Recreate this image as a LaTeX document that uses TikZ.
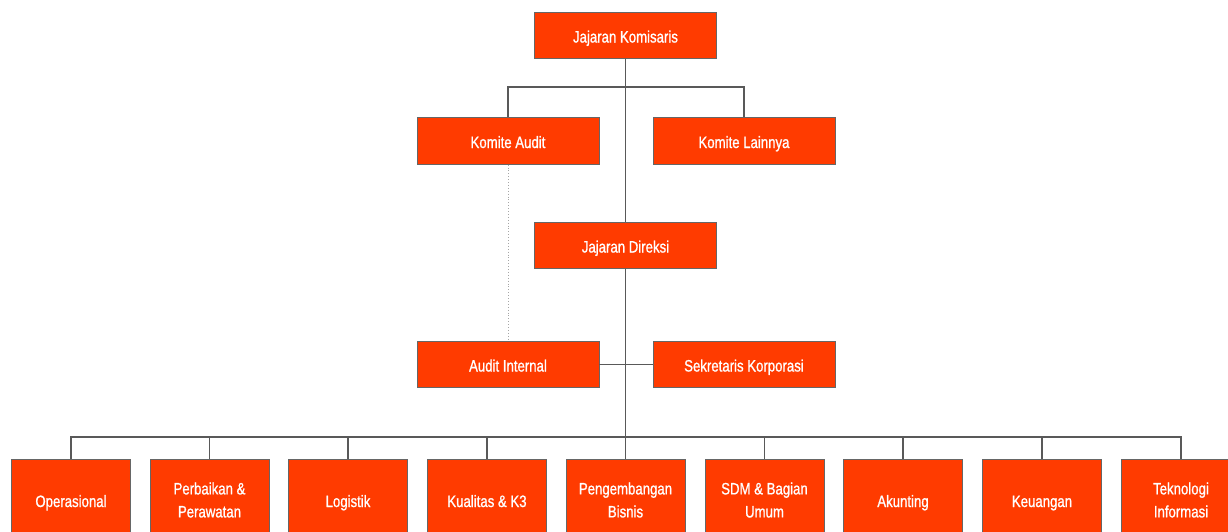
\documentclass[tikz,border=0pt]{standalone}
\usepackage{fontspec}
\setmainfont{Liberation Sans}[FakeStretch=0.8, FakeBold=0.9]
\begin{document}
\begin{tikzpicture}[x=1pt,y=-1pt,
  box/.style={draw=black!60, line width=0.8pt, fill=boxred, text=white,
    minimum width=182pt, minimum height=46.5pt, inner sep=0pt,
    font=\fontsize{16.5}{23}\selectfont, align=center},
  one/.style={text height=14pt, text depth=0pt},
  unit/.style={box, minimum width=119pt, minimum height=82pt},
  conn/.style={draw=black!65, line width=1.2pt},
  dotconn/.style={draw=black!35, line width=0.9pt, dotted}]
\definecolor{boxred}{HTML}{FF3B00}
\useasboundingbox (0,0) rectangle (1228,531);
\fill[white] (0,0) rectangle (1228,531);
% nodes
\node[box,one] (kom) at (625.5,35.5) {Jajaran Komisaris};
\node[box,one] (ka) at (508,141) {Komite Audit};
\node[box,one] (kl) at (744,141) {Komite Lainnya};
\node[box,one] (dir) at (625.5,245.5) {Jajaran Direksi};
\node[box,one] (ai) at (508,364.5) {Audit Internal};
\node[box,one] (sk) at (744,364.5) {Sekretaris Korporasi};
\node[unit,one] (b1) at (71,500) {Operasional};
\node[unit] (b2) at (209.5,500) {Perbaikan \&\\Perawatan};
\node[unit,one] (b3) at (348,500) {Logistik};
\node[unit,one] (b4) at (487,500) {Kualitas \& K3};
\node[unit] (b5) at (625.5,500) {Pengembangan\\Bisnis};
\node[unit] (b6) at (764.5,500) {SDM \& Bagian\\Umum};
\node[unit,one] (b7) at (903,500) {Akunting};
\node[unit,one] (b8) at (1042,500) {Keuangan};
\node[unit] (b9) at (1181,500) {Teknologi\\Informasi};
\coordinate (j1) at (625.5,87);
\coordinate (j2) at (625.5,437);
% connectors
\draw[conn] (kom.south) -- (dir.north);
\draw[conn] (ka.north) |- (j1) -| (kl.north);
\draw[conn] (dir.south) -- (b5.north);
\draw[conn] (ai.east) -- (sk.west);
\foreach \b in {b1,b2,b3,b4,b6,b7,b8,b9} \draw[conn] (\b.north) |- (j2);
\draw[dotconn] (ka.south) -- (ai.north);
\end{tikzpicture}
\end{document}
